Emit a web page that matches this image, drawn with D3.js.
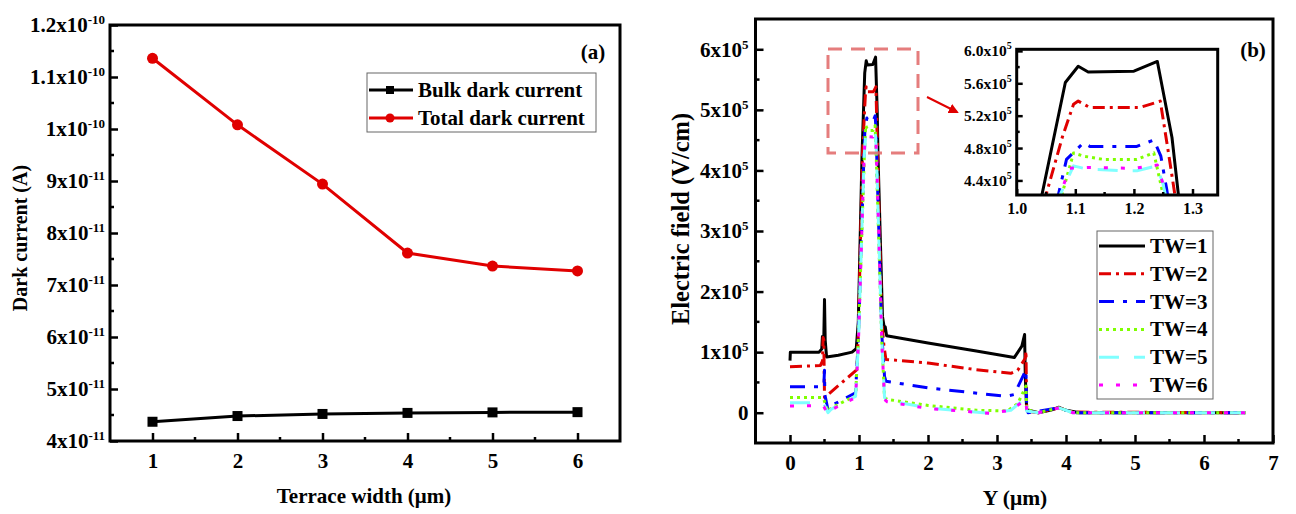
<!DOCTYPE html>
<html>
<head>
<meta charset="utf-8">
<script src="https://cdn.jsdelivr.net/npm/d3@7"></script>
<style>
    body { margin: 0; background: #fff; }
    svg { font-family: "Liberation Serif", "Times New Roman", serif; font-weight: bold; }
</style>
</head>
<body>
<script>
// ---- panel (a) data ----
var terrace   = [1, 2, 3, 4, 5, 6];
var bulkDark  = [4.37e-11, 4.48e-11, 4.52e-11, 4.54e-11, 4.55e-11, 4.555e-11];
var totalDark = [1.136e-10, 1.008e-10, 8.94e-11, 7.615e-11, 7.365e-11, 7.27e-11];
var leftTicks = [4e-11, 5e-11, 6e-11, 7e-11, 8e-11, 9e-11, 1e-10, 1.1e-10, 1.2e-10];

// ---- panel (b) data: [Y (um), E (x1e5 V/cm)] ----
var tw1 = [[0,0.86],[0.005,1.0],[0.42,1.0],[0.46,1.05],[0.47,1.26],[0.49,1.24],[0.5,1.87],[0.51,1.2],[0.53,0.92],[0.7,0.95],[0.9,1.0],[0.96,1.06],
    [0.99,1.5],[1.043,4.22],[1.083,5.61],[1.105,5.81],[1.122,5.74],[1.2,5.75],[1.24,5.87],[1.265,4.93],[1.276,4.22],[1.34,1.59],[1.36,1.45],
    [1.37,1.35],[1.38,1.42],[1.4,1.27],[2.0,1.15],[2.7,1.02],[3.25,0.91],[3.36,1.1],[3.4,1.29],[3.41,0.6],[3.43,0.05],[3.6,0.0],[3.8,0.05],
    [3.9,0.09],[4.0,0.04],[4.2,0.0],[6.6,0.0]];
var tw2 = [[0,0.76],[0.44,0.78],[0.47,0.85],[0.48,1.24],[0.49,1.2],[0.5,0.25],[0.97,0.71],[0.99,1.3],[1.05,4.22],[1.0785,4.95],[1.097,5.34],
    [1.105,5.38],[1.125,5.30],[1.21,5.30],[1.245,5.38],[1.259,4.74],[1.27,4.22],[1.33,1.5],[1.36,1.12],[1.39,0.88],[2.0,0.82],[2.7,0.71],
    [3.2,0.65],[3.3,0.7],[3.41,0.9],[3.42,1.02],[3.43,0.1],[3.45,0.02],[3.6,0.0],[3.9,0.08],[4.1,0.01],[6.6,0.0]];
var tw3 = [[0,0.43],[0.45,0.43],[0.49,0.45],[0.5,0.70],[0.505,0.3],[0.55,0.05],[0.59,0.11],[0.95,0.33],[0.99,1.2],[1.071,4.22],[1.085,4.66],
    [1.114,4.865],[1.125,4.82],[1.205,4.82],[1.234,4.90],[1.246,4.7],[1.256,4.29],[1.26,4.1],[1.33,1.3],[1.37,0.60],[1.39,0.52],[2.0,0.41],
    [3.13,0.27],[3.25,0.30],[3.42,0.71],[3.43,0.1],[3.45,0.0],[3.9,0.08],[4.1,0.0],[6.6,0.0]];
var tw4 = [[0,0.25],[0.45,0.25],[0.49,0.22],[0.55,0.02],[0.6,0.08],[0.95,0.28],[0.99,1.2],[1.077,4.22],[1.097,4.74],[1.114,4.70],[1.148,4.66],
    [1.205,4.66],[1.234,4.74],[1.25,4.22],[1.33,1.2],[1.37,0.25],[1.41,0.22],[2.0,0.12],[2.7,0.04],[3.15,0.03],[3.3,0.15],[3.42,0.44],
    [3.43,0.05],[3.6,0.0],[3.9,0.08],[4.1,0.0],[6.6,0.0]];
var tw5 = [[0,0.165],[0.45,0.165],[0.49,0.15],[0.55,0.0],[0.6,0.06],[0.95,0.27],[0.99,1.1],[1.074,4.22],[1.097,4.58],[1.12,4.54],[1.177,4.52],
    [1.205,4.52],[1.239,4.58],[1.25,4.35],[1.26,4.0],[1.33,1.2],[1.37,0.25],[1.41,0.2],[2.0,0.08],[2.9,-0.01],[3.2,0.04],[3.42,0.25],
    [3.43,0.03],[3.6,0.0],[3.9,0.08],[4.1,0.0],[6.6,0.0]];
var tw6 = [[0,0.11],[0.45,0.12],[0.49,0.1],[0.55,-0.02],[0.6,0.05],[0.95,0.25],[0.99,1.1],[1.074,4.22],[1.09,4.55],[1.12,4.56],[1.2,4.55],
    [1.24,4.59],[1.25,4.35],[1.26,4.0],[1.33,1.2],[1.37,0.22],[1.41,0.18],[2.0,0.07],[2.9,-0.01],[3.2,0.04],[3.42,0.22],[3.43,0.03],
    [3.6,0.0],[3.9,0.08],[4.1,0.0],[6.6,0.0]];
var twNames  = ["TW=1", "TW=2", "TW=3", "TW=4", "TW=5", "TW=6"];
var twColors = ["#000000", "#e00000", "#0000ff", "#7fff00", "#80ffff", "#ff00ff"];
var twDash   = [null, "12,5,3,5", "15,9,4,9", "3,4", "20,15", "4,13"];

var FONT = '"Liberation Serif", "Times New Roman", serif';
var width = 1296, height = 514;
var svg = d3.select("body").append("svg").attr("width", width).attr("height", height);

// superscript label helper: fmt returns [base, exponent]
function supLabels(g, fmt, supSize, shift) {
    g.selectAll(".tick text").each(function (d) {
        var t = d3.select(this), p = fmt(d);
        t.text(null);
        t.append("tspan").text(p[0]);
        if (p[1] != null) t.append("tspan").attr("dy", shift).attr("font-size", supSize).text(p[1]);
    });
}
function styleAxis(g, fs) {
    g.attr("font-family", FONT).attr("font-weight", "bold");
    g.select(".domain").remove();
    g.selectAll(".tick line").attr("stroke", "#000").attr("stroke-width", 2.5);
    g.selectAll(".tick text").attr("fill", "#000").attr("font-size", fs);
}
function minorTicks(g, vals, scale, horiz, len) {
    g.selectAll(null).data(vals).enter().append("line")
        .attr("stroke", "#000").attr("stroke-width", 2.5)
        .attr("x1", function (d) { return horiz ? scale(d) : 0; })
        .attr("x2", function (d) { return horiz ? scale(d) : len; })
        .attr("y1", function (d) { return horiz ? 0 : scale(d); })
        .attr("y2", function (d) { return horiz ? -len : scale(d); });
}

// ================= panel (a) =================
var xa = d3.scaleLinear().domain([0.5, 6.5]).range([110, 620]);
var ya = d3.scaleLinear().domain([4e-11, 1.2e-10]).range([441, 25]);

var ga = svg.append("g");
var gxa = ga.append("g").attr("transform", "translate(0,441)")
    .call(d3.axisBottom(xa).tickValues(terrace).tickFormat(d3.format("d")).tickSize(-8).tickPadding(12));
styleAxis(gxa, 21);
minorTicks(gxa, [1.5, 2.5, 3.5, 4.5, 5.5], xa, true, 4);

var gya = ga.append("g").attr("transform", "translate(110,0)")
    .call(d3.axisLeft(ya).tickValues(leftTicks).tickSize(-8).tickPadding(5));
styleAxis(gya, 21);
minorTicks(gya, leftTicks.slice(0, -1).map(function (v) { return v + 5e-12; }), ya, false, 4);
supLabels(gya, function (v) {
    var e = Math.floor(Math.log10(v) + 1e-9);
    var m = +(v / Math.pow(10, e)).toFixed(2);
    return [m + "x10", "-" + Math.abs(e)];
}, 13, -8);

ga.append("rect").attr("x", 110).attr("y", 25).attr("width", 510).attr("height", 416)
    .attr("fill", "none").attr("stroke", "#000").attr("stroke-width", 3);

var lineA = d3.line().x(function (d, i) { return xa(terrace[i]); }).y(function (d) { return ya(d); });
ga.append("path").datum(bulkDark).attr("d", lineA).attr("fill", "none").attr("stroke", "#000").attr("stroke-width", 3);
ga.append("path").datum(totalDark).attr("d", lineA).attr("fill", "none").attr("stroke", "#e00000").attr("stroke-width", 3);
ga.selectAll(".sq").data(bulkDark).enter().append("rect")
    .attr("x", function (d, i) { return xa(terrace[i]) - 5; })
    .attr("y", function (d) { return ya(d) - 5; })
    .attr("width", 10).attr("height", 10).attr("fill", "#000");
ga.selectAll(".ci").data(totalDark).enter().append("circle")
    .attr("cx", function (d, i) { return xa(terrace[i]); })
    .attr("cy", function (d) { return ya(d); })
    .attr("r", 5.5).attr("fill", "#e00000");

// legend (a)
var lga = ga.append("g");
lga.append("rect").attr("x", 367).attr("y", 73).attr("width", 229).attr("height", 59)
    .attr("fill", "#fff").attr("stroke", "#666").attr("stroke-width", 1);
[["Bulk dark current", "#000", "sq"], ["Total dark current", "#e00000", "ci"]].forEach(function (e, i) {
    var y = 90 + i * 28;
    lga.append("line").attr("x1", 369).attr("x2", 413).attr("y1", y).attr("y2", y).attr("stroke", e[1]).attr("stroke-width", 3);
    if (e[2] == "sq") lga.append("rect").attr("x", 386).attr("y", y - 4).attr("width", 8).attr("height", 8).attr("fill", e[1]);
    else lga.append("circle").attr("cx", 390).attr("cy", y).attr("r", 4.5).attr("fill", e[1]);
    lga.append("text").attr("x", 418).attr("y", y + 7).attr("font-size", 21).text(e[0]);
});

ga.append("text").attr("x", 593).attr("y", 59).attr("text-anchor", "middle").attr("font-size", 21).text("(a)");
ga.append("text").attr("x", 364).attr("y", 503).attr("text-anchor", "middle").attr("font-size", 21).text("Terrace width (\u03bcm)");
ga.append("text").attr("transform", "translate(27,238) rotate(-90)").attr("text-anchor", "middle").attr("font-size", 20).text("Dark current (A)");

// ================= panel (b) =================
var xb = d3.scaleLinear().domain([-0.5, 7]).range([755.5, 1273]);
var yb = d3.scaleLinear().domain([-0.5, 6.5]).range([443, 19]);
var gb = svg.append("g");

var gxb = gb.append("g").attr("transform", "translate(0,443)")
    .call(d3.axisBottom(xb).tickValues([0, 1, 2, 3, 4, 5, 6, 7]).tickFormat(d3.format("d")).tickSize(-8).tickPadding(12));
styleAxis(gxb, 21);
minorTicks(gxb, [0.5, 1.5, 2.5, 3.5, 4.5, 5.5, 6.5], xb, true, 4);

var gyb = gb.append("g").attr("transform", "translate(755.5,0)")
    .call(d3.axisLeft(yb).tickValues([0, 1, 2, 3, 4, 5, 6]).tickSize(-8).tickPadding(7));
styleAxis(gyb, 21);
minorTicks(gyb, [0.5, 1.5, 2.5, 3.5, 4.5, 5.5], yb, false, 4);
supLabels(gyb, function (v) { return v == 0 ? ["0", null] : [v + "x10", "5"]; }, 13, -8);

var lineB = d3.line().x(function (d) { return xb(d[0]); }).y(function (d) { return yb(d[1]); });
var tws = [tw1, tw2, tw3, tw4, tw5, tw6];
// draw from TW=1 up so later series sit on top
tws.forEach(function (s, i) {
    gb.append("path").datum(s).attr("d", lineB).attr("fill", "none")
        .attr("stroke", twColors[i]).attr("stroke-width", 3)
        .attr("stroke-dasharray", twDash[i]).attr("stroke-linejoin", "round");
});

gb.append("rect").attr("x", 755.5).attr("y", 19).attr("width", 517.5).attr("height", 424)
    .attr("fill", "none").attr("stroke", "#000").attr("stroke-width", 3);

// zoom box + arrow
gb.append("rect").attr("x", 828).attr("y", 49).attr("width", 90).attr("height", 104)
    .attr("fill", "none").attr("stroke", "#e06666").attr("stroke-opacity", 0.85)
    .attr("stroke-width", 3).attr("stroke-dasharray", "14,9");
svg.append("defs").append("marker").attr("id", "arr").attr("viewBox", "0 -5 10 10")
    .attr("refX", 8).attr("markerWidth", 5).attr("markerHeight", 5).attr("orient", "auto")
    .append("path").attr("d", "M0,-5 L10,0 L0,5 Z").attr("fill", "#e00000");
gb.append("line").attr("x1", 927).attr("y1", 97).attr("x2", 957).attr("y2", 112)
    .attr("stroke", "#e00000").attr("stroke-width", 2).attr("marker-end", "url(#arr)");

// ---- inset ----
var xi = d3.scaleLinear().domain([1.0, 1.343]).range([1016.7, 1217.7]);
var yi = d3.scaleLinear().domain([4.22, 6.02]).range([195, 49.3]);
var gi = gb.append("g");
svg.select("defs").append("clipPath").attr("id", "clipIn").append("rect")
    .attr("x", 1016.7).attr("y", 49.3).attr("width", 201).attr("height", 145.7);
var lineI = d3.line().x(function (d) { return xi(d[0]); }).y(function (d) { return yi(d[1]); });
var gil = gi.append("g").attr("clip-path", "url(#clipIn)");
tws.forEach(function (s, i) {
    gil.append("path").datum(s).attr("d", lineI).attr("fill", "none")
        .attr("stroke", twColors[i]).attr("stroke-width", 3)
        .attr("stroke-dasharray", twDash[i]).attr("stroke-linejoin", "round");
});
var gxi = gi.append("g").attr("transform", "translate(0,195)")
    .call(d3.axisBottom(xi).tickValues([1.0, 1.1, 1.2, 1.3]).tickFormat(d3.format(".1f")).tickSize(-6).tickPadding(8));
styleAxis(gxi, 16);
minorTicks(gxi, [1.05, 1.15, 1.25], xi, true, 3);
var gyi = gi.append("g").attr("transform", "translate(1016.7,0)")
    .call(d3.axisLeft(yi).tickValues([4.4, 4.8, 5.2, 5.6, 6.0]).tickSize(-6).tickPadding(5));
styleAxis(gyi, 15.5);
minorTicks(gyi, [4.6, 5.0, 5.4, 5.8], yi, false, 3);
supLabels(gyi, function (v) { return [v.toFixed(1) + "x10", "5"]; }, 10, -7);
gi.append("rect").attr("x", 1016.7).attr("y", 49.3).attr("width", 201).attr("height", 145.7)
    .attr("fill", "none").attr("stroke", "#000").attr("stroke-width", 3);

// legend (b)
var lgb = gb.append("g");
lgb.append("rect").attr("x", 1097).attr("y", 231).attr("width", 116).attr("height", 168)
    .attr("fill", "#fff").attr("stroke", "#666").attr("stroke-width", 1);
twNames.forEach(function (n, i) {
    var y = 246 + i * 27.8;
    lgb.append("line").attr("x1", 1099).attr("x2", 1145).attr("y1", y).attr("y2", y)
        .attr("stroke", twColors[i]).attr("stroke-width", 3).attr("stroke-dasharray", twDash[i]);
    lgb.append("text").attr("x", 1150).attr("y", y + 7).attr("font-size", 21).text(n);
});

gb.append("text").attr("x", 1253).attr("y", 57).attr("text-anchor", "middle").attr("font-size", 21).text("(b)");
gb.append("text").attr("x", 1015).attr("y", 505).attr("text-anchor", "middle").attr("font-size", 21.5).text("Y (\u03bcm)");
gb.append("text").attr("transform", "translate(689,219) rotate(-90)").attr("text-anchor", "middle").attr("font-size", 24.5).text("Electric field (V/cm)");
</script>
</body>
</html>
